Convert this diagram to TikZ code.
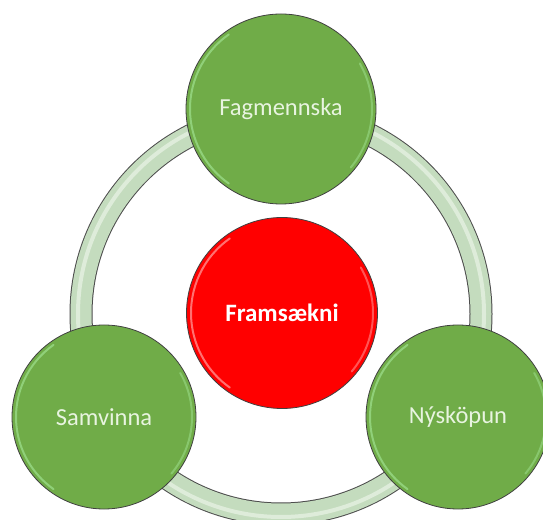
\documentclass[tikz,border=0pt]{standalone}
\usepackage{fontspec}
\setmainfont{Carlito}
\begin{document}
\begin{tikzpicture}[x=1pt,y=1pt,
  greenball/.style={circle,draw=black!75,line width=0.8pt,fill=ballgreen,text=balltext,font=\fontsize{24.5}{27}\selectfont,inner sep=0pt},
  redball/.style={circle,draw=black!75,line width=0.8pt,fill=red,text=white,font=\bfseries\fontsize{25}{27}\selectfont,inner sep=0pt},
  hilite/.style={line width=2pt,line cap=round}
]
\definecolor{ballgreen}{RGB}{112,172,72}
\definecolor{balltext}{RGB}{232,244,224}
\definecolor{ringgreen}{RGB}{196,220,190}
\definecolor{ringlight}{RGB}{222,236,218}
\useasboundingbox (0,0) rectangle (543,519);
\begin{scope}
\clip (0,0) rectangle (543,519);
% ring
\coordinate (rc) at (281,205);
\draw[black!70,line width=23pt] (rc) circle[radius=200];
\draw[ringgreen,line width=21pt] (rc) circle[radius=200];
\draw[ringlight,line width=4pt] (rc) circle[radius=203];
% nodes
\node[greenball,minimum size=190pt] (fag) at (281,410) {Fagmennska};
\node[redball,minimum size=191pt] (fram) at (282,206) {Framsækni};
\node[greenball,minimum size=184pt] (sam) at (104,102) {Samvinna};
\node[greenball,minimum size=184pt] (nys) at (458,102) {Nýsköpun};
% highlights
\foreach \n/\r in {fag/91,sam/88,nys/88}{
  \draw[hilite,green!25!ballgreen!60!white,opacity=0.8] (\n.center) ++(125:\r) arc[start angle=125,end angle=235,radius=\r];
  \draw[hilite,green!25!ballgreen!60!white,opacity=0.6] (\n.center) ++(-40:\r) arc[start angle=-40,end angle=30,radius=\r];
}
\draw[hilite,red!45!white,opacity=0.8] (fram.center) ++(125:91) arc[start angle=125,end angle=235,radius=91];
\draw[hilite,red!45!white,opacity=0.6] (fram.center) ++(-40:91) arc[start angle=-40,end angle=30,radius=91];
\end{scope}
\end{tikzpicture}
\end{document}
